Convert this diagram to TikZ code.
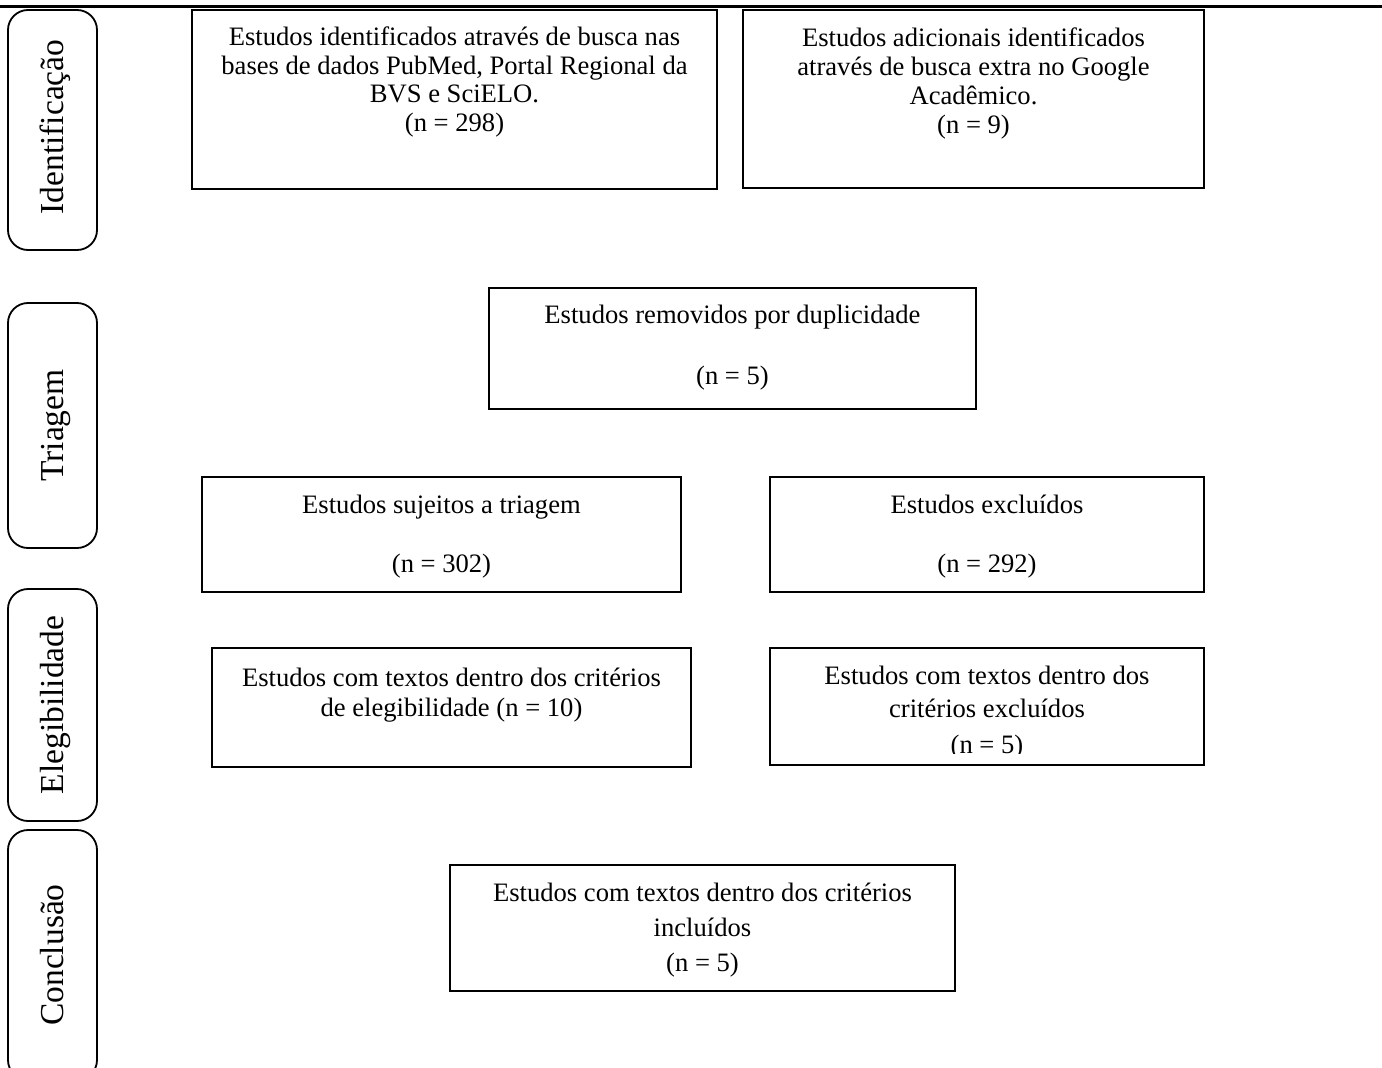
\documentclass[tikz,border=0pt]{standalone}
\usepackage{fontspec}
\setmainfont{Liberation Serif}
\begin{document}
\begin{tikzpicture}[x=1pt,y=-1pt,
  box/.style={draw, line width=1.6pt, rectangle, inner sep=0pt},
  side/.style={draw, line width=1.8pt, rectangle, rounded corners=20pt, inner sep=0pt, minimum width=89pt},
  txt/.style={inner sep=0pt, anchor=base, font=\fontsize{26.6}{#1}\selectfont},
  txt/.default=29,
  lab/.style={inner sep=0pt, anchor=base, rotate=90, font=\fontsize{33.5}{40}\selectfont}]
\useasboundingbox (0,0) rectangle (1382,1068);
\clip (0,0) rectangle (1382,1068);
% top rule
\coordinate (tl) at (0,6.5);
\coordinate (tr) at (1382,6.5);
\draw[line width=3pt] (tl) -- (tr);
% side phase boxes
\node[side, minimum height=240pt] (s1) at (52.5,130) {};
\node[lab] (l1) at (63,127) {Identificação};
\node[side, minimum height=245pt] (s2) at (52.5,425.5) {};
\node[lab] (l2) at (63,425.5) {Triagem};
\node[side, minimum height=232pt] (s3) at (52.5,705) {};
\node[lab] (l3) at (63,705) {Elegibilidade};
\node[side, minimum height=250pt] (s4) at (52.5,955) {};
\node[lab] (l4) at (63,955) {Conclusão};
% main boxes
\node[box, minimum width=525pt, minimum height=179pt] (b1) at (454.5,99.5) {};
\node[txt] (t1) at (454.5,45) {\begin{tabular}[t]{@{}c@{}}Estudos identificados através de busca nas\\ bases de dados PubMed, Portal Regional da\\ BVS e SciELO.\\ (n = 298)\end{tabular}};
\node[box, minimum width=461pt, minimum height=178pt] (b2) at (973.5,99) {};
\node[txt] (t2) at (973.5,46) {\begin{tabular}[t]{@{}c@{}}Estudos adicionais identificados\\ através de busca extra no Google\\ Acadêmico.\\ (n = 9)\end{tabular}};
\node[box, minimum width=487pt, minimum height=121pt] (b3) at (732.5,348.5) {};
\node[txt=61] (t3) at (732.5,323) {\begin{tabular}[t]{@{}c@{}}Estudos removidos por duplicidade\\ (n = 5)\end{tabular}};
\node[box, minimum width=479pt, minimum height=115pt] (b4) at (441.5,534.5) {};
\node[txt=59] (t4) at (441.5,513) {\begin{tabular}[t]{@{}c@{}}Estudos sujeitos a triagem\\ (n = 302)\end{tabular}};
\node[box, minimum width=434pt, minimum height=115pt] (b5) at (987,534.5) {};
\node[txt=59] (t5) at (987,513) {\begin{tabular}[t]{@{}c@{}}Estudos excluídos\\ (n = 292)\end{tabular}};
\node[box, minimum width=479pt, minimum height=119pt] (b6) at (451.5,707.5) {};
\node[txt=30] (t6) at (451.5,686) {\begin{tabular}[t]{@{}c@{}}Estudos com textos dentro dos critérios\\ de elegibilidade (n = 10)\end{tabular}};
\node[box, minimum width=434pt, minimum height=117pt] (b7) at (987,706.5) {};
\begin{scope}
\clip (771,649) rectangle (1203,753);
\node[txt=33] (t7) at (987,684) {\begin{tabular}[t]{@{}c@{}}Estudos com textos dentro dos\\ critérios excluídos\\[3pt] (n = 5)\end{tabular}};
\end{scope}
\node[box, minimum width=505pt, minimum height=126pt] (b8) at (702.5,928) {};
\node[txt=35] (t8) at (702.5,901) {\begin{tabular}[t]{@{}c@{}}Estudos com textos dentro dos critérios\\ incluídos\\ (n = 5)\end{tabular}};
\end{tikzpicture}
\end{document}
